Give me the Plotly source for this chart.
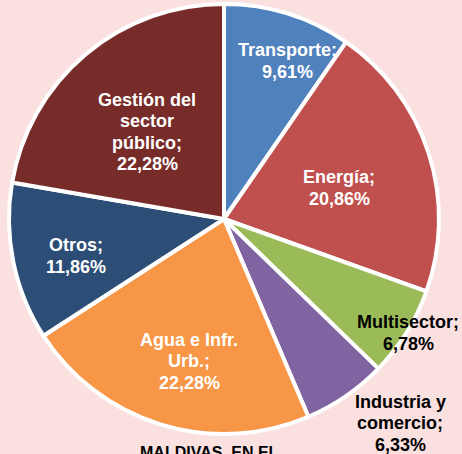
import plotly.graph_objects as go

# ---- data ----
categories = ["Transporte", "Energía", "Multisector", "Industria y comercio",
              "Agua e Infr. Urb.", "Otros", "Gestión del sector público"]
values = [9.61, 20.86, 6.78, 6.33, 22.28, 11.86, 22.28]
label_lines = [
    ["Transporte;"],
    ["Energía;"],
    ["Multisector;"],
    ["Industria y", "comercio;"],
    ["Agua e Infr.", "Urb.;"],
    ["Otros;"],
    ["Gestión del", "sector", "público;"],
]
title_text = "MALDIVAS, EN EL"

# ---- styles / layout ----
colors = ["#4F81BD", "#C0504D", "#9BBB59", "#8064A2", "#F79646", "#2C4D75", "#772C2A"]
text_colors = ["white", "white", "black", "black", "white", "white", "white"]
label_centers_px = [(287, 61), (339, 188), (408, 333), (400, 423),
                    (189, 361), (76, 256), (147, 132)]
W, H = 462, 454
bg = "#FBE0E0"
line_gap = 21.5
font = "Liberation Sans, Arial, sans-serif"

fig = go.Figure()
fig.add_trace(go.Pie(
    labels=categories, values=values, sort=False, direction="clockwise", rotation=0,
    textinfo="none", hoverinfo="label+percent",
    marker=dict(colors=colors, line=dict(color="white", width=4)),
    domain=dict(x=[9 / W, 439 / W], y=[20 / H, 450 / H]),
    showlegend=False,
))

annotations = []
for lines, v, (cx, cy), tc in zip(label_lines, values, label_centers_px, text_colors):
    all_lines = lines + [f"{v:.2f}".replace(".", ",") + "%"]
    n = len(all_lines)
    for i, t in enumerate(all_lines):
        py = cy + (i - (n - 1) / 2) * line_gap
        annotations.append(dict(
            x=cx / W, y=1 - py / H, xref="paper", yref="paper",
            text=f"<b>{t}</b>", showarrow=False, xanchor="center", yanchor="middle",
            font=dict(family=font, size=18, color=tc),
        ))
annotations.append(dict(
    x=209 / W, y=1 - 452 / H, xref="paper", yref="paper",
    text=f"<b>{title_text}</b>", showarrow=False, xanchor="center", yanchor="middle",
    font=dict(family=font, size=16, color="black"),
))

fig.update_layout(
    width=W, height=H, margin=dict(l=0, r=0, t=0, b=0),
    paper_bgcolor=bg, plot_bgcolor=bg,
    annotations=annotations,
)
fig.write_html(
    "out.html",
    config={"displayModeBar": False},
    post_script="document.body.style.margin='0';document.body.style.overflow='hidden';",
)
